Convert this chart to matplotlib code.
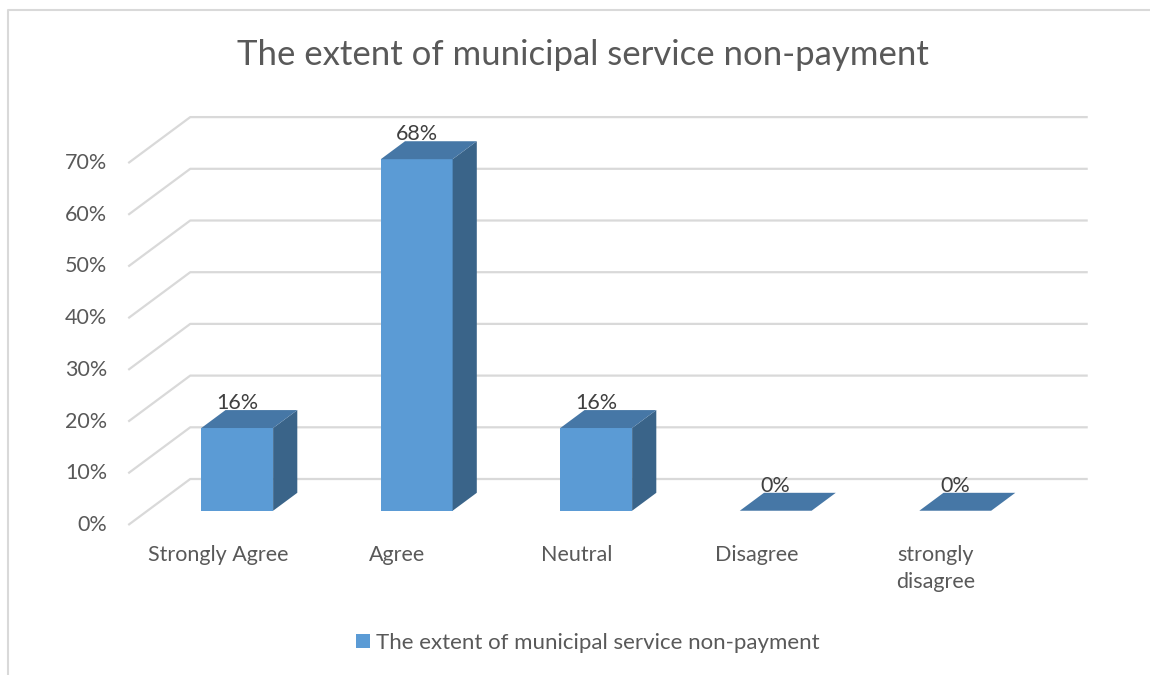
import numpy as np
import matplotlib.pyplot as plt
from matplotlib.patches import Polygon, Patch
from matplotlib.lines import Line2D

plt.rcParams['font.family'] = ['Lato', 'DejaVu Sans']

title = 'The extent of municipal service non-payment'
series_name = 'The extent of municipal service non-payment'
categories = ['Strongly Agree', 'Agree', 'Neutral', 'Disagree', 'strongly\ndisagree']
values = [16, 68, 16, 0, 0]
value_labels = ['16%', '68%', '16%', '0%', '0%']
y_ticks = [0, 10, 20, 30, 40, 50, 60, 70]
y_tick_labels = ['0%', '10%', '20%', '30%', '40%', '50%', '60%', '70%']

front_col = '#5B9BD5'
top_col = '#4677A6'
side_col = '#3A6489'
grid_col = '#D9D9D9'
text_col = '#595959'
fs = 15.5

W, H = 1150, 675
# oblique projection: pixels per category / per percent, depth shift in pixels
px_cat = 179.5
px_pct = 5.17
x_origin = 218.0
y_origin = 525.0
depth_dx, depth_dy = 62.0, 46.0
ddx = depth_dx / px_cat
ddy = depth_dy / px_pct

bar_half = 0.2
bar_d0, bar_d1 = 0.31, 0.70


def proj(x, v, d):
    return x + ddx * d, v + ddy * d


fig = plt.figure(figsize=(W / 100, H / 100), dpi=100)
ax = fig.add_axes([0, 0, 1, 1])
ax.set_xlim(-x_origin / px_cat, (W - x_origin) / px_cat)
ax.set_ylim(-(H - y_origin) / px_pct, y_origin / px_pct)
ax.axis('off')

n = len(categories)
x_left, x_right = -0.5, n - 0.5

# gridlines: front-left diagonal then along the back wall
for v, lab in zip(y_ticks, y_tick_labels):
    pts = [proj(x_left, v, 0), proj(x_left, v, 1), proj(x_right, v, 1)]
    xs, ys = zip(*pts)
    ax.plot(xs, ys, color=grid_col, lw=1.6, zorder=1, solid_capstyle='butt')
    ax.text(x_left - 21 / px_cat, v, lab, ha='right', va='center',
            fontsize=fs, color=text_col)

# bars
for i, (v, lab) in enumerate(zip(values, value_labels)):
    l, r = i - bar_half, i + bar_half
    front = [proj(l, 0, bar_d0), proj(r, 0, bar_d0), proj(r, v, bar_d0), proj(l, v, bar_d0)]
    top = [proj(l, v, bar_d0), proj(r, v, bar_d0), proj(r, v, bar_d1), proj(l, v, bar_d1)]
    side = [proj(r, 0, bar_d0), proj(r, 0, bar_d1), proj(r, v, bar_d1), proj(r, v, bar_d0)]
    if v > 0:
        ax.add_patch(Polygon(front, closed=True, fc=front_col, lw=0, zorder=3))
        ax.add_patch(Polygon(side, closed=True, fc=side_col, lw=0, zorder=3))
    ax.add_patch(Polygon(top, closed=True, fc=top_col, lw=0, zorder=3))
    lx, _ = proj(i, v, bar_d0)
    _, ly = proj(i, v, bar_d1)
    ax.text(lx, ly + 0.2, lab, ha='center', va='baseline', fontsize=fs,
            color='#404040', zorder=5)

# category labels under the floor
for i, cat in enumerate(categories):
    ax.text(i, -(545 - y_origin) / px_pct, cat, ha='center', va='top',
            fontsize=fs, color=text_col, linespacing=1.42)

fig.text(583 / W, 1 - 65 / H, title, ha='center', va='baseline',
         fontsize=25, color=text_col)

fig.legend(handles=[Patch(fc=front_col, ec='none', label=series_name)],
           loc='center', bbox_to_anchor=(588 / W, 1 - 643 / H), frameon=False,
           fontsize=16, labelcolor=text_col, handlelength=0.6, handleheight=0.6,
           handletextpad=0.3)

# chart area border (left and top edges)
bx, by = 8 / W, 1 - 10 / H
fig.add_artist(Line2D([bx, bx, 1], [0, by, by], transform=fig.transFigure,
                      color=grid_col, lw=1.5))

fig.savefig('out.png', dpi=100, facecolor='white')
